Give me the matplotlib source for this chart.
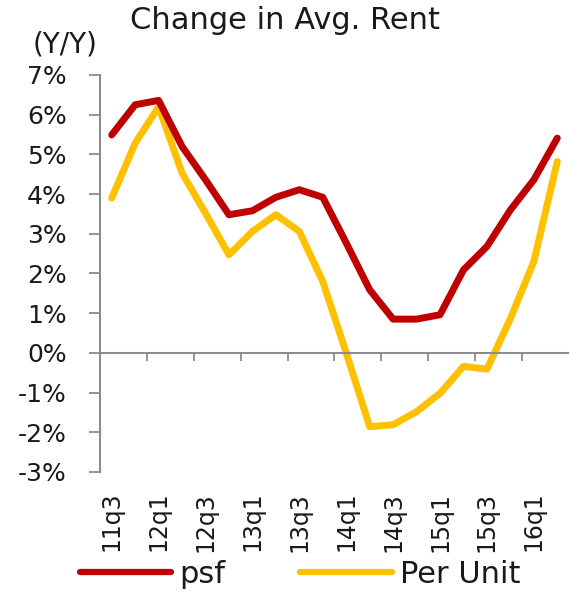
import matplotlib
matplotlib.use("Agg")
import matplotlib.pyplot as plt
import matplotlib.transforms as mtransforms
from matplotlib.lines import Line2D

# quarterly y/y change in average rent, 11q3 .. 16q2
quarters = ["11q3", "11q4", "12q1", "12q2", "12q3", "12q4", "13q1", "13q2",
            "13q3", "13q4", "14q1", "14q2", "14q3", "14q4", "15q1", "15q2",
            "15q3", "15q4", "16q1", "16q2"]
psf = [5.49, 6.25, 6.36, 5.20, 4.36, 3.48, 3.58, 3.92, 4.11, 3.92,
       2.77, 1.59, 0.85, 0.85, 0.96, 2.09, 2.68, 3.60, 4.36, 5.41]
per_unit = [3.90, 5.28, 6.20, 4.53, 3.52, 2.47, 3.06, 3.48, 3.06, 1.80,
            0.00, -1.86, -1.81, -1.48, -1.02, -0.34, -0.41, 0.86, 2.30, 4.82]
yticks = [-3, -2, -1, 0, 1, 2, 3, 4, 5, 6, 7]

red = "#C00000"
gold = "#FFC000"
axis_grey = "#8C8C8C"
text_col = "#1A1A1A"

fig = plt.figure(figsize=(5.69, 5.91), dpi=100)
ax = fig.add_axes([0.1757, 0.2014, 0.8243, 0.6717])

x = list(range(len(quarters)))
ax.plot(x, psf, color=red, lw=5, solid_joinstyle="round", solid_capstyle="round", zorder=3)
ax.plot(x, per_unit, color=gold, lw=5, solid_joinstyle="round", solid_capstyle="round", zorder=2)

ax.set_xlim(-0.5, len(quarters) - 0.5)
ax.set_ylim(-3, 7)

# y axis
ax.set_yticks(yticks)
ax.set_yticklabels([f"{v}%" for v in yticks])
ax.tick_params(axis="y", direction="out", length=8, width=1.3, color=axis_grey,
               pad=16, labelsize=18, labelcolor=text_col)
ax.spines["left"].set_color(axis_grey)
ax.spines["left"].set_linewidth(1.5)
ax.spines["right"].set_visible(False)
ax.spines["top"].set_visible(False)

# x axis sits on zero, tick every two quarters between categories
ax.spines["bottom"].set_position(("data", 0))
ax.spines["bottom"].set_color(axis_grey)
ax.spines["bottom"].set_linewidth(1.5)
ax.set_xticks([i - 0.5 for i in range(0, len(quarters) - 1, 2)])
ax.tick_params(axis="x", direction="out", length=6, width=1.3, color=axis_grey,
               labelbottom=False)

trans = mtransforms.blended_transform_factory(ax.transData, ax.transAxes)
for i in range(0, len(quarters), 2):
    ax.text(i, -0.05, quarters[i], transform=trans, rotation=90,
            ha="center", va="top", fontsize=17, color=text_col)

fig.text(0.50, 0.965, "Change in Avg. Rent", ha="center", va="center",
         fontsize=22, color=text_col)
fig.text(0.058, 0.925, "(Y/Y)", ha="left", va="center", fontsize=20, color=text_col)

handles = [Line2D([], [], color=red, lw=4.5, solid_capstyle="round"),
           Line2D([], [], color=gold, lw=4.5, solid_capstyle="round")]
fig.legend(handles, ["psf", "Per Unit"], loc="center left",
           bbox_to_anchor=(0.14, 0.028), ncol=2, frameon=False, fontsize=22,
           handlelength=3.0, handletextpad=0.26, columnspacing=2.45,
           borderpad=0, borderaxespad=0, labelcolor=text_col)

fig.savefig("out.png", dpi=100)
